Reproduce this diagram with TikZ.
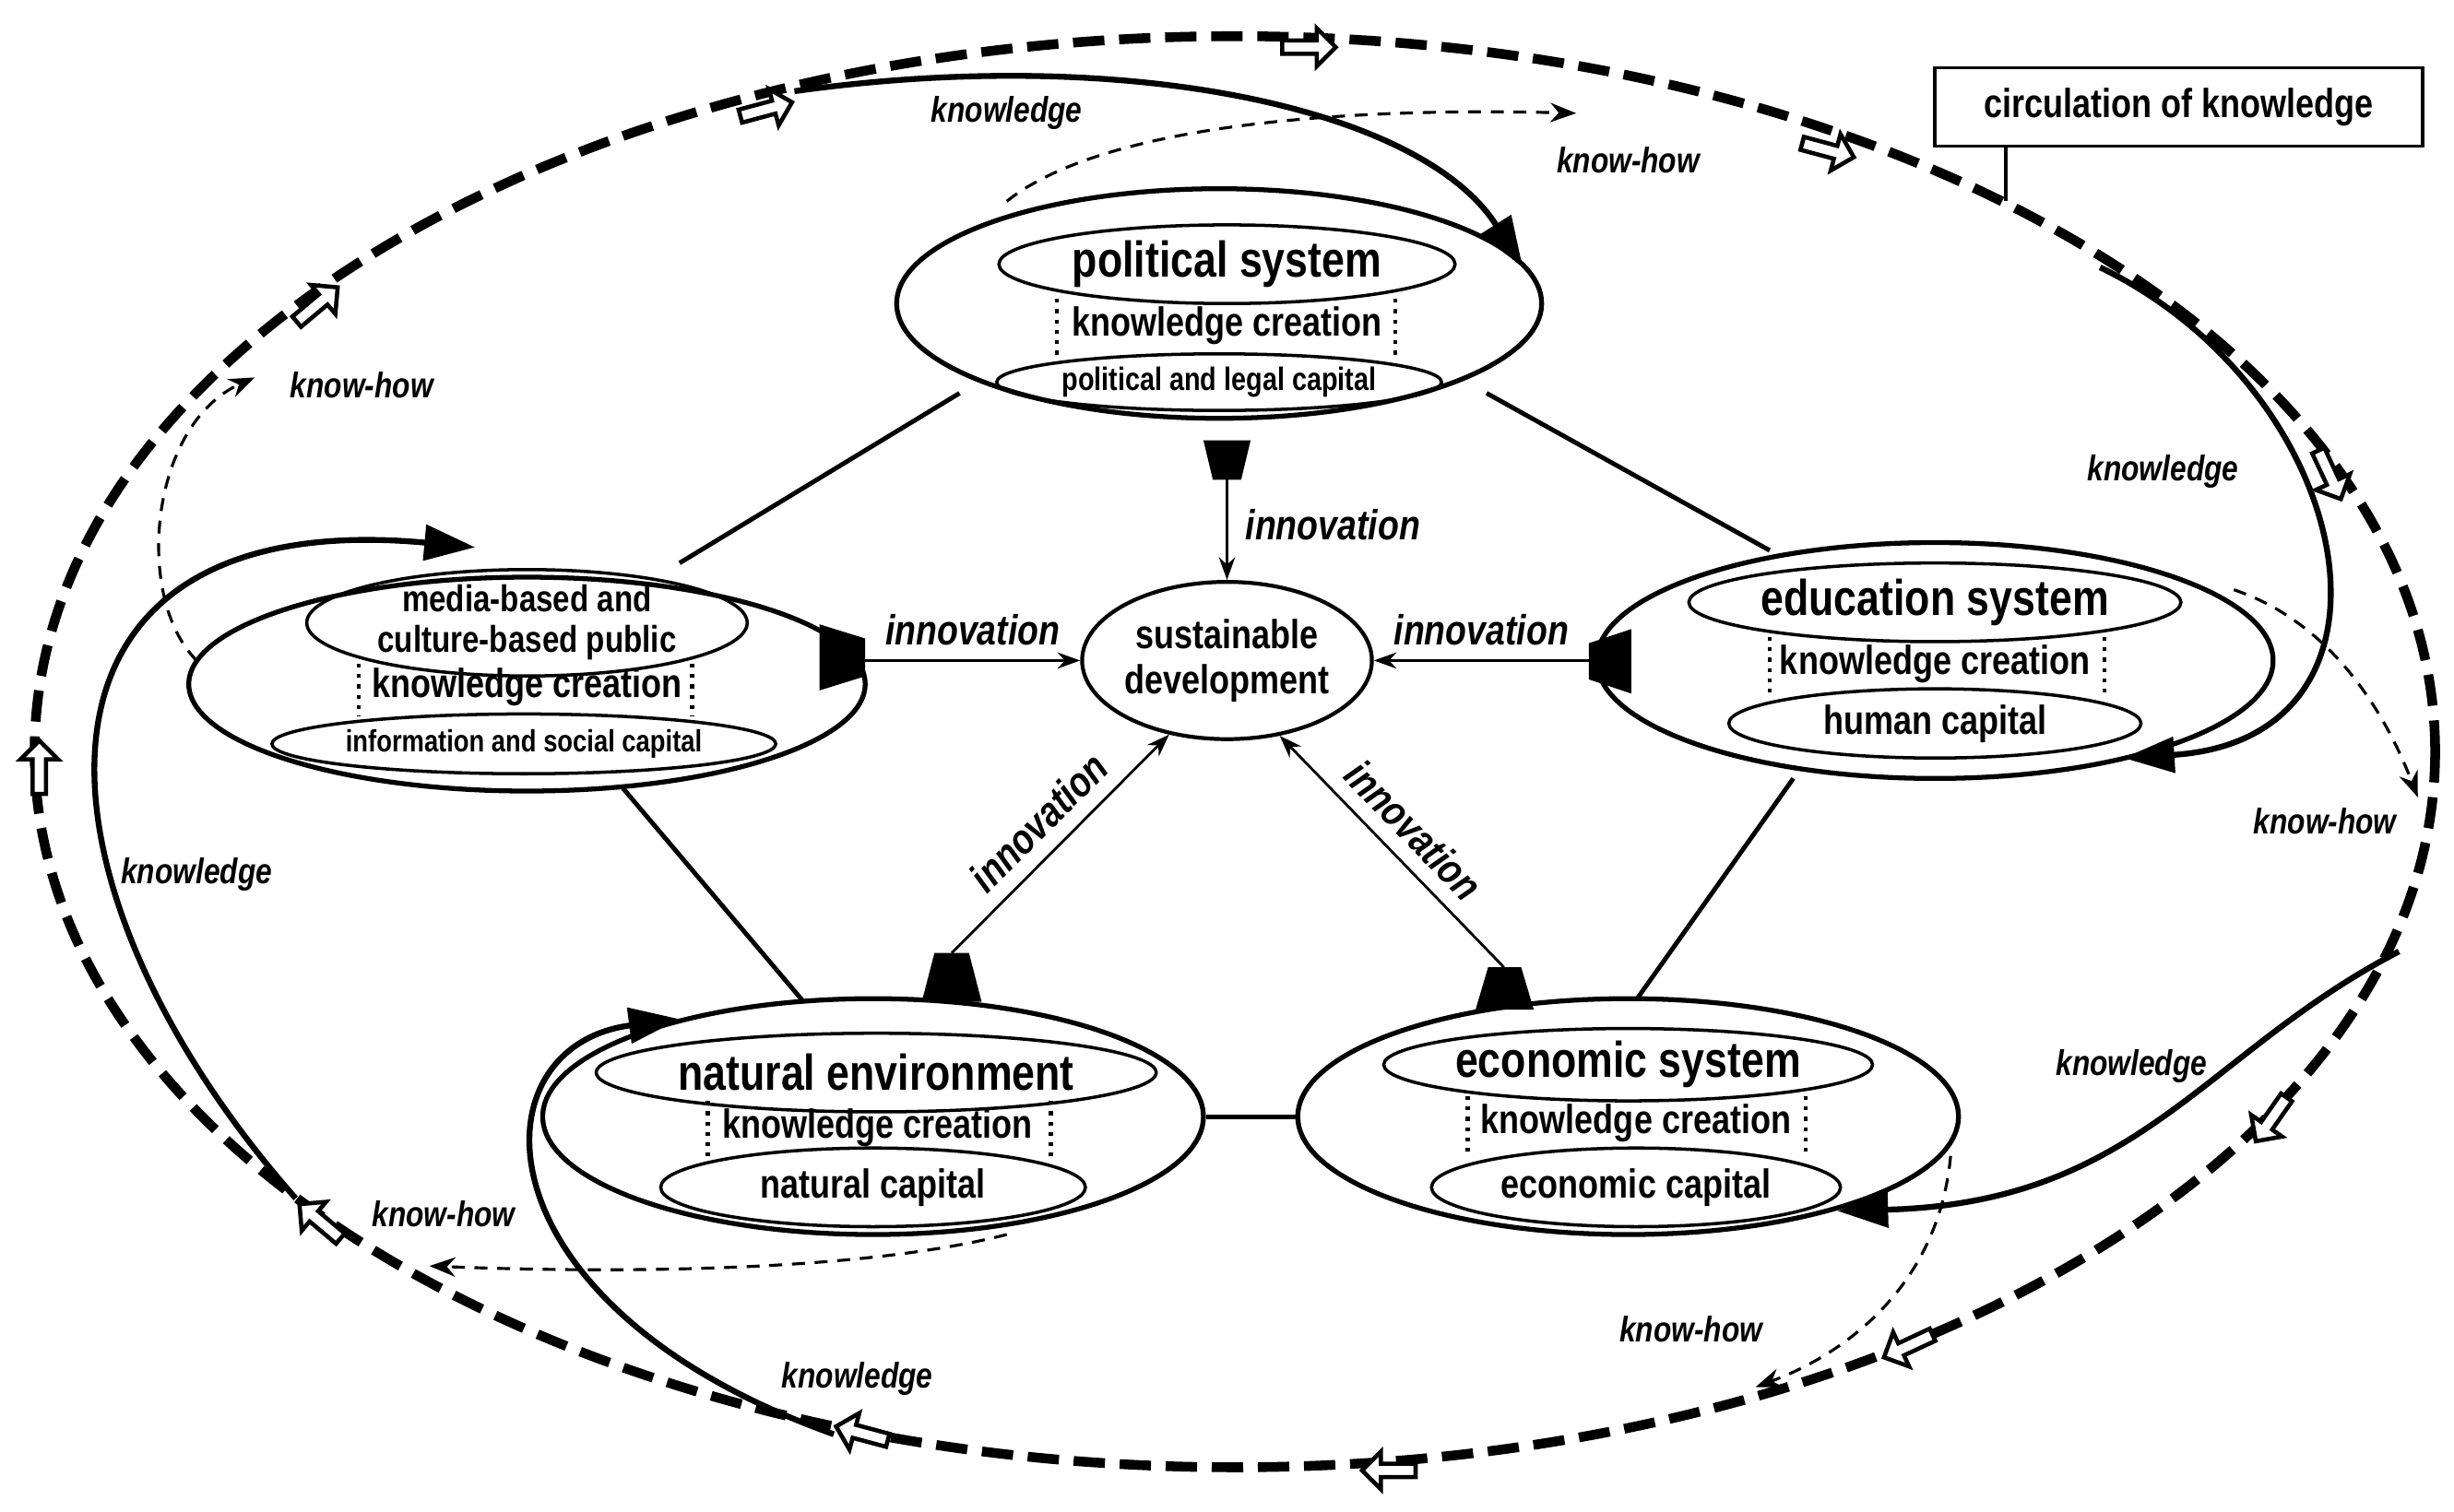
\documentclass[tikz,border=0pt]{standalone}
\usepackage{fontspec}
\setmainfont{Liberation Sans}[FakeStretch=0.82]
\usetikzlibrary{shapes.geometric,shapes.arrows,arrows.meta}
\begin{document}
\def\U{0.017058cm}
\begin{tikzpicture}[x=0.017058cm,y=-0.017058cm,
  ell/.style={ellipse,draw,line width=1.5pt,inner sep=0pt},
  inell/.style={ellipse,draw,line width=1pt,inner sep=0pt},
  big/.style={font=\bfseries\fontsize{15.5}{17}\selectfont},
  mid/.style={font=\bfseries\fontsize{12.5}{14}\selectfont},
  sml/.style={font=\bfseries\fontsize{10.5}{12}\selectfont},
  lab/.style={font=\bfseries\itshape\fontsize{11}{12}\selectfont},
  inn/.style={font=\bfseries\itshape\fontsize{13}{14}\selectfont},
  dotl/.style={line width=1.2pt,dotted},
  link/.style={line width=1.4pt},
  innarr/.style={line width=0.8pt,-{Stealth[length=7pt,width=5pt]}},
  know/.style={line width=1.8pt,-{Triangle[length=0.55cm,width=0.38cm]}},
  kh/.style={line width=0.9pt,dashed,dash pattern=on 4pt off 3pt,-{Stealth[length=8pt,width=6pt]}},
  outer/.style={line width=3pt,dash pattern=on 0.34cm off 0.16cm},
  blk/.style={single arrow,draw,fill=white,line width=1.3pt,minimum height=34*\U,minimum width=24*\U,single arrow head extend=3pt,inner sep=1pt},
  trap/.style={fill=black}
]
\useasboundingbox (0,0) rectangle (1560,961);

% outer ellipse
\node[ellipse,outer,draw,minimum width=1526*\U,minimum height=910*\U,inner sep=0] (outer) at (785,478) {};

% block arrows
\foreach \x/\y/\a [count=\i] in {485/70/15, 830/30/0, 1160/95/-15, 1480/300/-65, 1445/710/-125, 1215/855/-155, 885/935/180, 550/912/165, 205/778/140, 25/490/90, 200/195/40}
  \node[blk,rotate=\a] (b\i) at (\x,\y) {};

% circulation box
\node[draw,line width=1pt,minimum width=310*\U,minimum height=50*\U,mid] (circ) at (1385,68) {circulation of knowledge};
\coordinate (circE) at (1275,128);
\draw[line width=1pt] (1275,93) -- (circE);

% political
\node[ell,minimum width=410*\U,minimum height=146*\U] (pol) at (775,193) {};
\node[inell,minimum width=290*\U,minimum height=50*\U,big] (polA) at (780,168) {political system};
\node[mid] (polB) at (780,207) {knowledge creation};
\node[inell,minimum width=222*\U,minimum height=36*\U,font=\bfseries\fontsize{10}{12}\selectfont] (polC) at (775,243) {political and legal capital};
\draw[dotl] (672,190) -- (672,226); \draw[dotl] (887,190) -- (887,226);

% media
\node[ell,minimum width=430*\U,minimum height=136*\U] (med) at (335,435) {};
\node[inell,minimum width=280*\U,minimum height=56*\U,align=center,font=\bfseries\fontsize{11.5}{12.5}\selectfont] (medA) at (335,396) {media-based and\\culture-based public};
\node[mid] (medB) at (335,437) {knowledge creation};
\node[inell,minimum width=232*\U,minimum height=38*\U,font=\bfseries\fontsize{9.5}{11}\selectfont] (medC) at (333,473) {information and social capital};
\draw[dotl] (228,422) -- (228,455); \draw[dotl] (440,422) -- (440,455);

% education
\node[ell,minimum width=430*\U,minimum height=150*\U] (edu) at (1230,420) {};
\node[inell,minimum width=280*\U,minimum height=50*\U,big] (eduA) at (1230,383) {education system};
\node[mid] (eduB) at (1230,422) {knowledge creation};
\node[inell,minimum width=262*\U,minimum height=44*\U,mid] (eduC) at (1230,460) {human capital};
\draw[dotl] (1125,405) -- (1125,440); \draw[dotl] (1338,405) -- (1338,440);

% natural
\node[ell,minimum width=420*\U,minimum height=150*\U] (nat) at (555,710) {};
\node[inell,minimum width=296*\U,minimum height=50*\U,big] (natA) at (557,682) {natural environment};
\node[mid] (natB) at (558,717) {knowledge creation};
\node[inell,minimum width=270*\U,minimum height=50*\U,mid] (natC) at (555,755) {natural capital};
\draw[dotl] (450,700) -- (450,735); \draw[dotl] (668,700) -- (668,735);

% economic
\node[ell,minimum width=420*\U,minimum height=150*\U] (eco) at (1035,710) {};
\node[inell,minimum width=290*\U,minimum height=46*\U,big] (ecoA) at (1035,677) {economic system};
\node[mid] (ecoB) at (1040,714) {knowledge creation};
\node[inell,minimum width=260*\U,minimum height=50*\U,mid] (ecoC) at (1040,755) {economic capital};
\draw[dotl] (933,697) -- (933,732); \draw[dotl] (1148,697) -- (1148,732);

% sustainable
\node[ellipse,draw,line width=1.2pt,minimum width=176*\U,minimum height=100*\U,align=center,mid,inner sep=0] (sd) at (780,420) {sustainable\\development};

% pentagon links
\coordinate (pL) at (610,250); \coordinate (mR) at (432,358);
\coordinate (pR) at (945,250); \coordinate (eL) at (1125,350);
\coordinate (mB) at (395,500); \coordinate (nT) at (510,636);
\coordinate (eB) at (1140,495); \coordinate (cT) at (1040,636);
\draw[link] (pL) -- (mR);
\draw[link] (pR) -- (eL);
\draw[link] (mB) -- (nT);
\draw[link] (eB) -- (cT);
\draw[link] (nat.east) -- (eco.west);

% trapezoids
\fill[trap] (765,280) -- (795,280) -- (789,305) -- (771,305) -- cycle;
\fill[trap] (521,397) -- (550,406) -- (550,430) -- (521,439) -- cycle;
\fill[trap] (1037,400) -- (1010,409) -- (1010,432) -- (1037,441) -- cycle;
\fill[trap] (586,637) -- (624,637) -- (616,606) -- (594,606) -- cycle;
\fill[trap] (938,642) -- (975,642) -- (967,615) -- (946,615) -- cycle;
\coordinate (tp) at (780,305); \coordinate (tm) at (550,420); \coordinate (te) at (1010,420);
\coordinate (tn) at (605,606); \coordinate (tc) at (956,615);

% innovation arrows
\draw[innarr] (tp) -- (sd.north) node[inn,pos=0.45,right=2pt] {innovation};
\draw[innarr] (tm) -- (sd.west) node[inn,midway,above=1pt] {innovation};
\draw[innarr] (te) -- (sd.east) node[inn,midway,above=1pt] {innovation};
\draw[innarr] (tn) -- (sd.-128) node[inn,midway,sloped,above=1pt] {innovation};
\draw[innarr] (tc) -- (sd.-55) node[inn,midway,sloped,above=1pt] {innovation};

% knowledge curves
\coordinate (k1s) at (505,58); \coordinate (k1e) at (968,170);
\draw[know] (k1s) .. controls (720,28) and (905,70) .. (k1e);
\node[lab] (k1) at (640,72) {knowledge};
\coordinate (k2s) at (1335,170); \coordinate (k2e) at (1350,482);
\draw[know] (k2s) .. controls (1500,250) and (1540,470) .. (k2e);
\node[lab] (k2) at (1375,300) {knowledge};
\coordinate (k3s) at (1525,605); \coordinate (k3e) at (1168,770);
\draw[know] (k3s) .. controls (1400,670) and (1360,765) .. (k3e);
\node[lab] (k3) at (1355,678) {knowledge};
\coordinate (k4s) at (530,912); \coordinate (k4e) at (432,648);
\draw[know] (k4s) .. controls (300,830) and (300,665) .. (k4e);
\node[lab] (k4) at (545,877) {knowledge};
\coordinate (k5s) at (188,762); \coordinate (k5e) at (302,348);
\draw[know] (k5s) .. controls (10,560) and (0,320) .. (k5e);
\node[lab] (k5) at (125,556) {knowledge};

% know-how curves
\coordinate (h1s) at (640,128); \coordinate (h1e) at (1002,72);
\draw[kh] (h1s) .. controls (700,80) and (850,68) .. (h1e);
\node[lab] (h1) at (1035,102) {know-how};
\coordinate (h2s) at (1420,375); \coordinate (h2e) at (1537,507);
\draw[kh] (h2s) .. controls (1480,395) and (1515,450) .. (h2e);
\node[lab] (h2) at (1478,522) {know-how};
\coordinate (h3s) at (1240,735); \coordinate (h3e) at (1116,882);
\draw[kh] (h3s) .. controls (1232,820) and (1170,862) .. (h3e);
\node[lab] (h3) at (1075,845) {know-how};
\coordinate (h4s) at (640,785); \coordinate (h4e) at (273,805);
\draw[kh] (h4s) .. controls (550,808) and (400,810) .. (h4e);
\node[lab] (h4) at (282,772) {know-how};
\coordinate (h5s) at (125,420); \coordinate (h5e) at (162,240);
\draw[kh] (h5s) .. controls (85,380) and (95,270) .. (h5e);
\node[lab] (h5) at (230,245) {know-how};
\end{tikzpicture}
\end{document}
